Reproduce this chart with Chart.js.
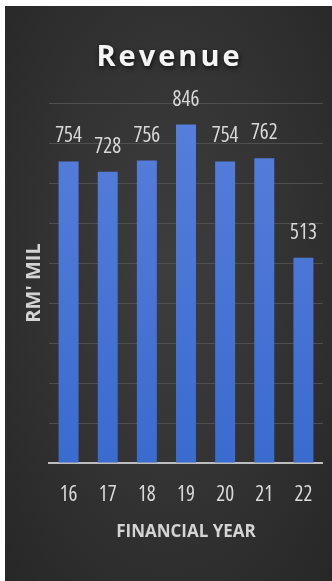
<!DOCTYPE html>
<html>
<head>
<meta charset="utf-8">
<script src="https://cdn.jsdelivr.net/npm/chart.js@4.4.1/dist/chart.umd.min.js"></script>
<style>
    html, body { margin: 0; padding: 0; background: #ffffff; }
    body { width: 332px; height: 581px; overflow: hidden; position: relative; }
    #panel {
        position: absolute; left: 5px; top: 6px; width: 327px; height: 575px;
        background: radial-gradient(ellipse at 50% 45%, #3d3d3d 0%, #333333 50%, #272727 100%);
    }
</style>
</head>
<body>
<div id="panel"><canvas id="revenue-chart" width="327" height="575"></canvas></div>
<script>
// Revenue by financial year (RM' mil)
const chartTitle = 'Revenue';
const years = ['16', '17', '18', '19', '20', '21', '22'];
const revenue = [754, 728, 756, 846, 754, 762, 513];
const yMin = 0;
const yMax = 900;
const yStep = 100;
const xAxisTitle = 'FINANCIAL YEAR';
const yAxisTitle = "RM' MIL";

const numFont = "'Open Sans', sans-serif";
const boldFont = "'Open Sans', 'Liberation Sans', sans-serif";

// Title drawn by hand so it can have letter spacing and a soft shadow
const titlePlugin = {
    id: 'spacedTitle',
    afterDraw(chart) {
        const ctx = chart.ctx;
        ctx.save();
        ctx.font = `bold 29px ${boldFont}`;
        if ('letterSpacing' in ctx) ctx.letterSpacing = '3px';
        ctx.textAlign = 'center';
        ctx.textBaseline = 'alphabetic';
        ctx.shadowColor = 'rgba(0, 0, 0, 0.7)';
        ctx.shadowBlur = 5;
        ctx.shadowOffsetX = 1;
        ctx.shadowOffsetY = 2;
        ctx.fillStyle = '#f4f4f4';
        ctx.fillText(chartTitle, chart.width / 2 + 1, 60);
        ctx.restore();
    }
};

// Value labels above each bar
const valueLabels = {
    id: 'valueLabels',
    afterDatasetsDraw(chart) {
        const ctx = chart.ctx;
        const meta = chart.getDatasetMeta(0);
        ctx.save();
        ctx.font = `400 semi-condensed 21px ${numFont}`;
        ctx.fillStyle = '#d9d9d9';
        ctx.textAlign = 'center';
        ctx.textBaseline = 'alphabetic';
        meta.data.forEach((bar, i) => {
            ctx.fillText(revenue[i], bar.x, bar.y - 19);
        });
        ctx.restore();
    }
};

function barFill(context) {
    const area = context.chart.chartArea;
    if (!area) return '#4674d2';
    const g = context.chart.ctx.createLinearGradient(0, area.top, 0, area.bottom);
    g.addColorStop(0, '#587fdb');
    g.addColorStop(1, '#3a6bcf');
    return g;
}

new Chart(document.getElementById('revenue-chart'), {
    type: 'bar',
    data: {
        labels: years,
        datasets: [{
            data: revenue,
            backgroundColor: barFill,
            borderWidth: 0,
            categoryPercentage: 1,
            barPercentage: 0.51
        }]
    },
    options: {
        responsive: false,
        animation: false,
        events: [],
        layout: {
            padding: { top: 97, right: 9, bottom: 39, left: 0 }
        },
        plugins: {
            legend: { display: false },
            title: { display: false },
            tooltip: { enabled: false }
        },
        scales: {
            x: {
                afterFit(scale) { scale.height = 79; },
                grid: { display: false, drawTicks: false },
                border: { display: true, color: '#bdbdbd', width: 2 },
                ticks: {
                    color: '#d9d9d9',
                    padding: 19,
                    font: { family: numFont, size: 21, weight: '400 semi-condensed' }
                },
                title: {
                    display: true,
                    text: xAxisTitle,
                    color: '#d4d4d4',
                    padding: { top: 0, bottom: 0 },
                    font: { family: boldFont, size: 17, weight: 'bold' }
                }
            },
            y: {
                min: yMin,
                max: yMax,
                ticks: { display: false, stepSize: yStep },
                grid: { color: '#4f4f4f', lineWidth: 1, drawTicks: false },
                border: { display: false },
                title: {
                    display: true,
                    text: yAxisTitle,
                    color: '#d4d4d4',
                    padding: { top: 17, bottom: 3 },
                    font: { family: boldFont, size: 20, weight: 'bold' }
                }
            }
        }
    },
    plugins: [titlePlugin, valueLabels]
});
</script>
</body>
</html>
